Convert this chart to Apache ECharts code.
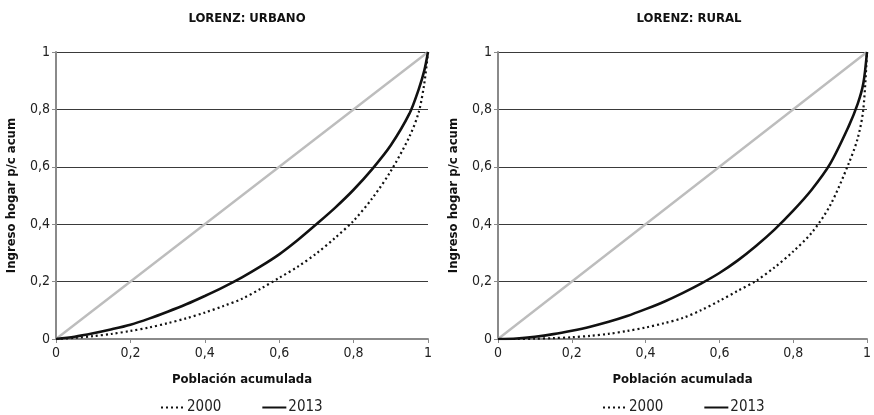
<!DOCTYPE html>
<html>
<head>
<meta charset="utf-8">
<script src="https://cdn.jsdelivr.net/npm/echarts@6/dist/echarts.min.js"></script>
<style>
  html, body { margin: 0; padding: 0; background: #fff; }
  #main { width: 874px; height: 415px; }
</style>
</head>
<body>
<div id="main"></div>
<script>
// población acumulada (eje x)
const poblacion = [0, 0.05, 0.1, 0.15, 0.2, 0.25, 0.3, 0.35, 0.4, 0.45, 0.5, 0.55, 0.6,
  0.65, 0.7, 0.75, 0.8, 0.85, 0.9, 0.95, 0.975, 0.99, 1];
// ingreso acumulado
const urbano2000 = [0, 0.004, 0.01, 0.018, 0.028, 0.04, 0.055, 0.072, 0.092, 0.115, 0.14, 0.175, 0.213,
  0.252, 0.298, 0.352, 0.412, 0.49, 0.585, 0.705, 0.79, 0.89, 1];
const urbano2013 = [0, 0.008, 0.02, 0.034, 0.05, 0.071, 0.095, 0.121, 0.15, 0.181, 0.215, 0.253, 0.295,
  0.345, 0.40, 0.457, 0.52, 0.592, 0.675, 0.785, 0.87, 0.935, 1];
const rural2000 = [0, 0, 0.001, 0.003, 0.006, 0.011, 0.018, 0.028, 0.04, 0.055, 0.073, 0.10, 0.133,
  0.168, 0.203, 0.25, 0.305, 0.37, 0.465, 0.61, 0.70, 0.80, 1];
const rural2013 = [0, 0.002, 0.008, 0.017, 0.029, 0.043, 0.06, 0.08, 0.104, 0.13, 0.16, 0.193, 0.23,
  0.274, 0.325, 0.382, 0.447, 0.52, 0.61, 0.74, 0.82, 0.89, 1];
const igualdad = [0, 1];
const ticks = [0, 0.2, 0.4, 0.6, 0.8, 1];
const titulos = ['LORENZ: URBANO', 'LORENZ: RURAL'];
const anios = ['2000', '2013'];

const FONT = '"Liberation Sans Narrow", "DejaVu Sans Condensed", sans-serif';
const fmt = v => String(Number(v.toFixed(1))).replace('.', ',');
const pares = ys => poblacion.map((x, i) => [x, ys[i]]);

const chart = echarts.init(document.getElementById('main'));

const grids = [
  { left: 56, right: 446, top: 52, bottom: 76 },
  { left: 498, right: 4, top: 52, bottom: 76 }
];
const centros = [242, 684];

function ejeX(i) {
  return {
    type: 'value', gridIndex: i, min: ticks[0], max: ticks[ticks.length - 1], interval: 0.2,
    name: 'Población acumulada', nameLocation: 'middle', nameGap: 34,
    nameTextStyle: { fontFamily: FONT, fontWeight: 'bold', fontSize: 13, color: '#111' },
    axisLine: { lineStyle: { color: '#8a8a8a', width: 2 } },
    axisTick: { show: true, length: 4, lineStyle: { color: '#8a8a8a' } },
    axisLabel: { formatter: fmt, fontFamily: FONT, fontSize: 14, color: '#222', margin: 7 },
    splitLine: { show: false }
  };
}
function ejeY(i) {
  return {
    type: 'value', gridIndex: i, min: 0, max: 1, interval: 0.2,
    name: 'Ingreso hogar p/c acum', nameLocation: 'middle', nameGap: 38,
    nameTextStyle: { fontFamily: FONT, fontWeight: 'bold', fontSize: 13, color: '#111' },
    axisLine: { show: true, lineStyle: { color: '#8a8a8a', width: 2 } },
    axisTick: { show: true, length: 4, lineStyle: { color: '#8a8a8a' } },
    axisLabel: { formatter: fmt, fontFamily: FONT, fontSize: 14, color: '#222', margin: 6 },
    splitLine: { show: true, lineStyle: { color: '#3a3a3a', width: 1 } }
  };
}

const datos = [[urbano2000, urbano2013], [rural2000, rural2013]];
const series = [];
[0, 1].forEach(i => {
  series.push({
    type: 'line', xAxisIndex: i, yAxisIndex: i, symbol: 'none', silent: true,
    data: igualdad.map(v => [v, v]),
    lineStyle: { color: '#bdbdbd', width: 2.4 }
  });
  series.push({
    name: anios[0], type: 'line', xAxisIndex: i, yAxisIndex: i, symbol: 'none', smooth: 0.3,
    data: pares(datos[i][0]),
    itemStyle: { color: '#111' },
    lineStyle: { color: '#111', width: 2.2, type: [2, 3] }
  });
  series.push({
    name: anios[1], type: 'line', xAxisIndex: i, yAxisIndex: i, symbol: 'none', smooth: 0.3,
    data: pares(datos[i][1]),
    itemStyle: { color: '#111' },
    lineStyle: { color: '#111', width: 2.6 }
  });
});

const option = {
  animation: false,
  title: titulos.map((t, i) => ({
    text: t, left: centros[i], top: 7, textAlign: 'center',
    textStyle: { fontFamily: FONT, fontWeight: 'bold', fontSize: 13, color: '#111' }
  })),
  grid: grids,
  xAxis: [ejeX(0), ejeX(1)],
  yAxis: [ejeY(0), ejeY(1)],
  legend: [0, 1].map(i => ({
    data: anios, left: centros[i] - 87, top: 395, itemGap: 40, itemWidth: 24, itemHeight: 10,
    selectedMode: false,
    itemStyle: { opacity: 0 },
    textStyle: { fontFamily: FONT, fontSize: 15, color: '#222', padding: [0, 0, 0, -3] }
  })),
  series: series
};

option && chart.setOption(option);
</script>
</body>
</html>
